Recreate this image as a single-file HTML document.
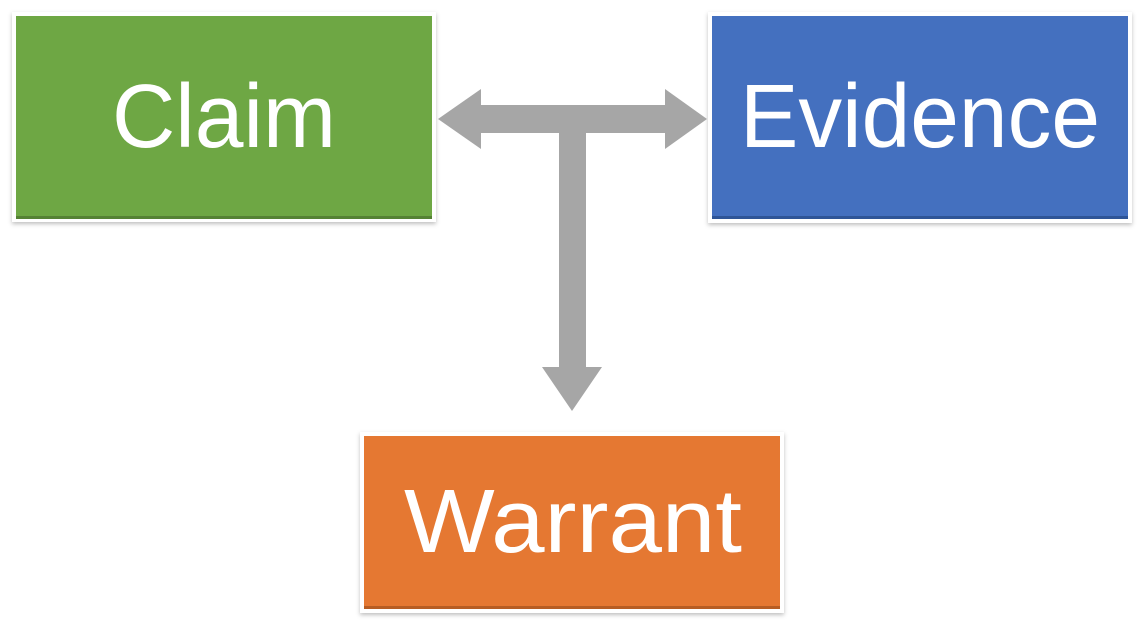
<!DOCTYPE html>
<html><head><meta charset="utf-8"><style>
html,body{margin:0;padding:0;background:#fff;width:1141px;height:625px;overflow:hidden}
</style></head><body>
<svg width="1141" height="625" viewBox="0 0 1141 625" xmlns="http://www.w3.org/2000/svg">
<defs>
<filter id="sh" x="-5%" y="-5%" width="110%" height="115%"><feDropShadow dx="0" dy="2" stdDeviation="2" flood-color="#000" flood-opacity="0.25"/></filter>
</defs>
<g filter="url(#sh)">
<rect x="12" y="12" width="424" height="210" fill="#fff"/>
<rect x="708" y="12" width="424" height="211" fill="#fff"/>
<rect x="360" y="432" width="424" height="181" fill="#fff"/>
</g>
<rect x="16" y="16" width="416" height="203" fill="#6ea744"/>
<rect x="16" y="216" width="416" height="3" fill="#558234"/>
<rect x="712" y="16" width="416" height="203" fill="#4470bf"/>
<rect x="712" y="216" width="416" height="3" fill="#2f5597"/>
<rect x="364" y="436" width="416" height="173" fill="#e57832"/>
<rect x="364" y="606" width="416" height="3" fill="#b75d23"/>
<g font-family="Liberation Sans, sans-serif" fill="#fff" font-size="90">
<text x="112" y="147" textLength="224" lengthAdjust="spacingAndGlyphs">Claim</text>
<text x="740" y="147" textLength="360" lengthAdjust="spacingAndGlyphs">Evidence</text>
<text x="404" y="552" textLength="338" lengthAdjust="spacingAndGlyphs">Warrant</text>
</g>
<polygon fill="#a6a6a6" points="438,119 481,89 481,105 665,105 665,89 707,119 665,149 665,133 586,133 586,367 602,367 572,411 542,367 559,367 559,133 481,133 481,149"/>
</svg>
</body></html>
